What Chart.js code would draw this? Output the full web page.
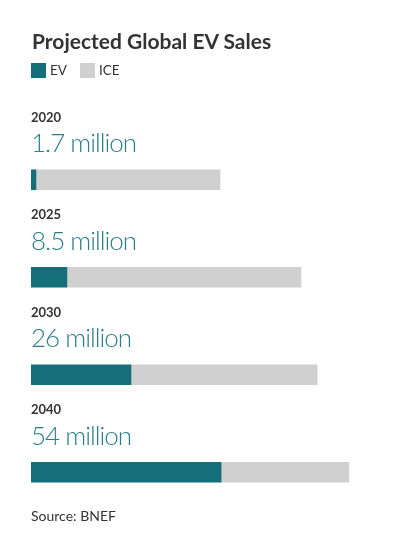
<!DOCTYPE html>
<html>
<head>
<meta charset="utf-8">
<script src="https://cdn.jsdelivr.net/npm/chart.js@4.4.0/dist/chart.umd.min.js"></script>
<style>
  body { margin: 0; background: #fff; font-family: Lato, sans-serif; }
  #wrap { position: relative; width: 395px; height: 554px; }
  #chart { position: absolute; left: 0; top: 0; }
  .title { position: absolute; left: 32px; top: 28px; font-size: 21px; font-weight: 700; color: #333; white-space: nowrap; }
  .legend { position: absolute; left: 31px; top: 62px; font-size: 13.5px; color: #333; display: flex; align-items: center; }
  .legend span.box { display: inline-block; width: 15px; height: 15px; margin-right: 4px; }
  .legend span.lbl { margin-right: 13px; }
  .source { position: absolute; left: 31px; top: 507px; font-size: 14px; color: #333; }
</style>
</head>
<body>
<div id="wrap">
  <canvas id="chart" width="395" height="554"></canvas>
  <div class="title">Projected Global EV Sales</div>
  <div class="legend">
    <span class="box" style="background:#146F7A"></span><span class="lbl">EV</span>
    <span class="box" style="background:#D0D0D0"></span><span class="lbl">ICE</span>
  </div>
  <div class="source">Source: BNEF</div>
</div>
<script>
// Ventas proyectadas (millones)
const years = ['2020', '2025', '2030', '2040'];
const evLabels = ['1.7 million', '8.5 million', '26 million', '54 million'];
const evSales = [1.4, 10.2, 28.4, 54.0];
const iceSales = [52.3, 66.5, 52.9, 36.3];

// etiquetas encima de cada barra
const rowLabels = {
    id: 'rowLabels',
    afterDatasetsDraw(chart) {
        const ctx = chart.ctx;
        const meta = chart.getDatasetMeta(0);
        ctx.save();
        ctx.textAlign = 'left';
        ctx.textBaseline = 'alphabetic';
        meta.data.forEach((bar, i) => {
            const top = bar.y - bar.height / 2;
            const left = chart.chartArea.left;
            ctx.letterSpacing = '0px';
            ctx.fillStyle = '#333';
            ctx.font = '700 13px Lato';
            ctx.fillText(years[i], left, top - 48);
            ctx.fillStyle = '#2B7E88';
            ctx.font = '300 26px Lato';
            ctx.letterSpacing = '-1px';
            ctx.fillText(evLabels[i], left, top - 17.5);
        });
        ctx.restore();
    }
};

const ctx = document.getElementById('chart').getContext('2d');
new Chart(ctx, {
    type: 'bar',
    data: {
        labels: years,
        datasets: [{
            label: 'EV',
            data: evSales,
            backgroundColor: '#146F7A',
            barThickness: 20
        }, {
            label: 'ICE',
            data: iceSales,
            backgroundColor: '#D0D0D0',
            barThickness: 20
        }]
    },
    options: {
        indexAxis: 'y', // barras horizontales
        responsive: false,
        animation: false,
        layout: {
            padding: { top: 131, bottom: 33, left: 31, right: 12 }
        },
        scales: {
            x: { stacked: true, min: 0, max: 100, display: false },
            y: { stacked: true, display: false }
        },
        plugins: {
            legend: { display: false },
            tooltip: { enabled: false }
        }
    },
    plugins: [rowLabels]
});
</script>
</body>
</html>
